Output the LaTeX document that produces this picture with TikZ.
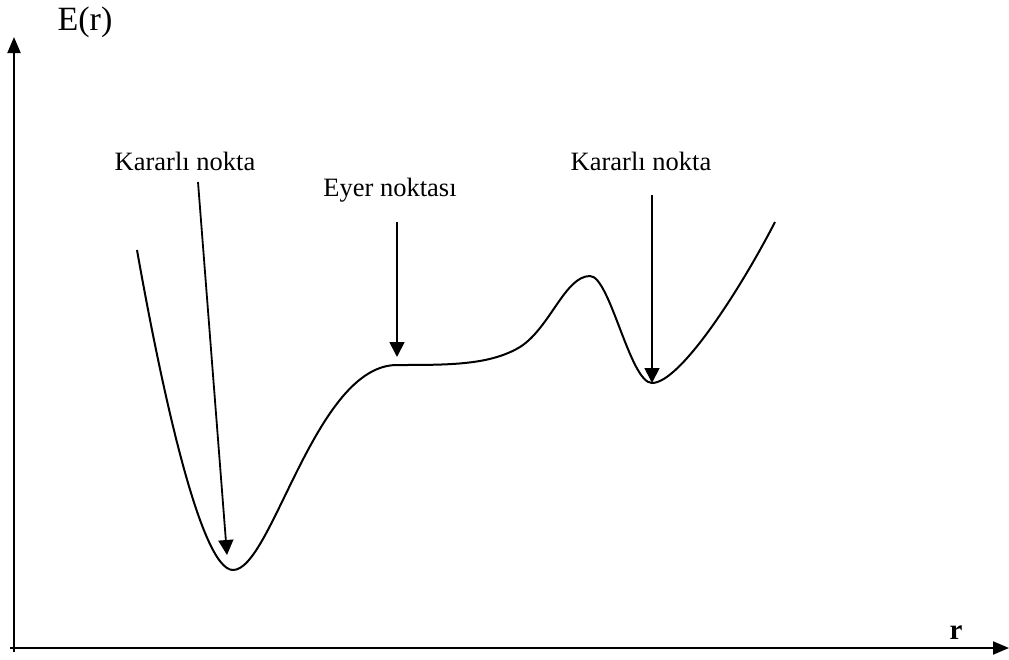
\documentclass[tikz,border=0pt]{standalone}
\usepackage{fontspec}
\setmainfont{Liberation Serif}
\usetikzlibrary{arrows.meta}
\begin{document}
\begin{tikzpicture}[x=1pt,y=-1pt,
  axis/.style={line width=2pt,-{Triangle[length=16pt,width=13pt]}},
  pointer/.style={line width=1.8pt,-{Triangle[length=15pt,width=15pt]}},
  label/.style={font=\fontsize{26.5}{30}\selectfont,anchor=base,inner sep=0pt},
  curve/.style={line width=2pt,line join=round}]
\useasboundingbox (0,0) rectangle (1009,659);
% axes
\coordinate (ybase) at (14,652);
\coordinate (xbase) at (10,648);
\coordinate (ytip) at (14,37);
\coordinate (xtip) at (1009,648);
\draw[axis] (ybase) -- (ytip);
\draw[axis] (xbase) -- (xtip);
\node[label,font=\fontsize{34}{40}\selectfont] (ey) at (85,30) {E(r)};
\node[label,font=\bfseries\fontsize{29}{32}\selectfont] (rr) at (956,639) {r};
% energy curve: deep well, flat saddle, barrier, shallow well
\draw[curve] (137,250)
  .. controls (160,380) and (200,570) .. (233,570)
  .. controls (272,570) and (315,365) .. (397,365)
  .. controls (450,365) and (490,365) .. (520,347)
  .. controls (550,328) and (565,276) .. (590,276)
  .. controls (610,276) and (630,383) .. (652,383)
  .. controls (680,383) and (740,290) .. (775,222);
% labels and pointers
\node[label] (k1) at (185,170) {Kararlı nokta};
\node[label] (ey1) at (390,196) {Eyer noktası};
\node[label] (k2) at (641,170) {Kararlı nokta};
\coordinate (k1s) at (198,182);
\coordinate (k1e) at (227,555);
\coordinate (ey1s) at (397,222);
\coordinate (ey1e) at (397,357);
\coordinate (k2s) at (652,195);
\coordinate (k2e) at (652,383);
\draw[pointer] (k1s) -- (k1e);
\draw[pointer] (ey1s) -- (ey1e);
\draw[pointer] (k2s) -- (k2e);
\end{tikzpicture}
\end{document}
